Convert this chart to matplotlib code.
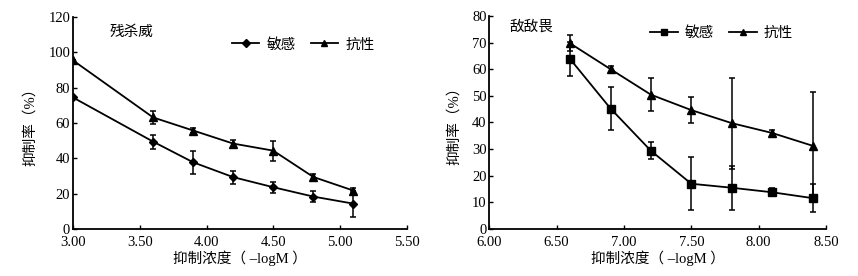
import matplotlib
matplotlib.use("Agg")
import matplotlib.pyplot as plt

plt.rcParams["font.family"] = ["Liberation Serif", "Noto Sans CJK SC", "DejaVu Sans"]

# 残杀威
x_left = [3.0, 3.6, 3.9, 4.2, 4.5, 4.8, 5.1]
sens_left = [74.5, 49.5, 37.8, 29.4, 23.7, 18.4, 14.4]
sens_left_err = [0, 4.0, 6.4, 3.7, 3.1, 3.3, 7.4]
res_left = [95.5, 63.2, 55.8, 48.4, 44.4, 29.5, 21.8]
res_left_err = [0, 3.8, 1.5, 2.0, 5.6, 1.5, 1.5]

# 敌敌畏
x_right = [6.6, 6.9, 7.2, 7.5, 7.8, 8.1, 8.4]
sens_right = [63.8, 45.2, 29.3, 16.9, 15.4, 13.7, 11.5]
sens_right_err = [6.3, 8.1, 3.2, 9.9, 8.3, 1.5, 5.4]
res_right = [69.7, 60.0, 50.4, 44.6, 39.7, 36.0, 31.2]
res_right_err = [3.0, 1.0, 6.1, 5.0, 17.1, 1.0, 20.2]

x_label = "抑制浓度（ –logM ）"
y_label = "抑制率（%）"
legend_labels = ["敏感", "抗性"]


def draw_panel(ax, x, sens, sens_err, res, res_err, sens_marker, sens_ms, title,
               xlim, xticks, ylim, yticks, legend_anchor, title_xy):
    err_kw = dict(fmt="none", ecolor="black", elinewidth=1.1, capsize=2.5, capthick=1.1)
    ax.errorbar(x, sens, yerr=sens_err, **err_kw)
    ax.errorbar(x, res, yerr=res_err, **err_kw)
    ax.plot(x, sens, color="black", marker=sens_marker, markersize=sens_ms, lw=1.3,
            label=legend_labels[0])
    ax.plot(x, res, color="black", marker="^", markersize=6, lw=1.3,
            label=legend_labels[1])
    ax.set_xlim(*xlim)
    ax.set_ylim(*ylim)
    ax.set_xticks(xticks)
    ax.set_xticklabels([f"{t:.2f}" for t in xticks])
    ax.set_yticks(yticks)
    for side in ("top", "right"):
        ax.spines[side].set_visible(False)
    for side in ("left", "bottom"):
        ax.spines[side].set_linewidth(1.3)
    ax.tick_params(direction="in", length=3, width=1, labelsize=10.5)
    ax.tick_params(axis="x", pad=5)
    ax.tick_params(axis="y", pad=2)
    ax.set_xlabel(x_label, fontsize=10.5, labelpad=1)
    ax.set_ylabel(y_label, fontsize=10.5, labelpad=8)
    ax.text(title_xy[0], title_xy[1], title, transform=ax.transAxes,
            fontsize=10.5, va="center", ha="left")
    leg = ax.legend(loc="center", bbox_to_anchor=legend_anchor, ncol=2,
                    frameon=False, fontsize=10.5, handlelength=1.9,
                    handletextpad=0.5, columnspacing=1.0)
    for h in leg.legend_handles:
        h.set_markersize(4.5)


fig = plt.figure(figsize=(8.58, 2.76), dpi=100)
ax1 = fig.add_axes([0.0851, 0.170, 0.389, 0.768])
ax2 = fig.add_axes([0.5703, 0.1714, 0.3924, 0.7707])

draw_panel(ax1, x_left, sens_left, sens_left_err, res_left, res_left_err, "D", 4.5,
           "残杀威", (3.0, 5.5), [3.0, 3.5, 4.0, 4.5, 5.0, 5.5], (0, 120),
           range(0, 121, 20), (0.69, 0.87), (0.11, 0.93))
draw_panel(ax2, x_right, sens_right, sens_right_err, res_right, res_right_err, "s", 5.5,
           "敌敌畏", (6.0, 8.5), [6.0, 6.5, 7.0, 7.5, 8.0, 8.5], (0, 80),
           range(0, 81, 10), (0.69, 0.92), (0.06, 0.95))

fig.savefig("out.png", dpi=100)
